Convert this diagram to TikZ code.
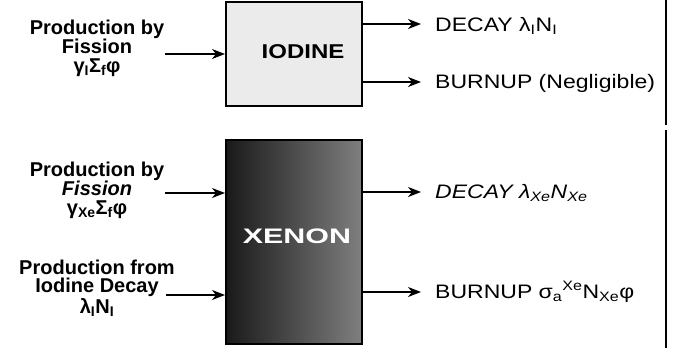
\documentclass[tikz,border=0pt]{standalone}
\usepackage{fontspec}
\setmainfont{Liberation Sans}
\newfontfamily\labfont{Liberation Sans}[FakeStretch=1.18]
\newfontfamily\iodfont{Liberation Sans}[FakeStretch=1.2]
\newfontfamily\xenfont{Liberation Sans}[FakeStretch=1.45]
\usetikzlibrary{arrows.meta}
\begin{document}
\begin{tikzpicture}[x=1pt,y=-1pt,
  conn/.style={line width=1.6pt,-{Stealth[length=13pt,width=10pt,inset=4pt]}},
  boxline/.style={line width=2pt,draw=black},
  leftlab/.style={align=center,font=\bfseries\fontsize{20}{18.5}\selectfont,inner sep=0pt},
  rightlab/.style={anchor=west,font=\labfont\fontsize{19.5}{20}\selectfont,inner sep=0pt}]
\useasboundingbox (0,0) rectangle (674,348);
% boxes
\node[boxline,fill=black!8,minimum width=136pt,minimum height=104pt,inner sep=0pt] (iodine) at (294,54) {};
\node[font=\iodfont\bfseries\fontsize{20}{22}\selectfont,inner sep=0pt] (iodinet) at (303,52) {IODINE};
\shade[left color=black!90,right color=black!50] (226,140) rectangle (362,344);
\node[boxline,minimum width=136pt,minimum height=204pt,inner sep=0pt] (xenon) at (294,242) {};
\node[font=\xenfont\bfseries\fontsize{21}{22}\selectfont,inner sep=0pt,text=white] (xenont) at (297,236) {XENON};
% left labels
\node[leftlab] (l1) at (97,48) {Production by\\Fission\\γ\textsubscript{I}Σ\textsubscript{f}φ};
\node[leftlab] (l2) at (97,190) {Production by\\\textit{Fission}\\γ\textsubscript{Xe}Σ\textsubscript{f}φ};
\node[leftlab] (l3) at (97,288) {Production from\\Iodine Decay\\λ\textsubscript{I}N\textsubscript{I}};
\coordinate (s1) at (165,54);
\coordinate (s2) at (165,193);
\coordinate (s3) at (166,295);
\draw[conn] (s1) -- (s1 -| iodine.west);
\draw[conn] (s2) -- (s2 -| xenon.west);
\draw[conn] (s3) -- (s3 -| xenon.west);
% right labels
\node[rightlab] (r1) at (435,26) {DECAY\ λ\textsubscript{I}N\textsubscript{I}};
\node[rightlab] (r2) at (435,83) {BURNUP (Negligible)};
\node[rightlab] (r3) at (435,193) {\itshape DECAY\ λ\textsubscript{Xe}N\textsubscript{Xe}};
\node[rightlab] (r4) at (435,292) {BURNUP\ σ\textsubscript{a}\textsuperscript{Xe}N\textsubscript{Xe}φ};
\coordinate (t1) at (362,24);
\coordinate (t2) at (362,82);
\coordinate (t3) at (362,192);
\coordinate (t4) at (362,292);
\draw[conn] (t1) -- ([xshift=-14pt]r1.west |- t1);
\draw[conn] (t2) -- ([xshift=-14pt]r2.west |- t2);
\draw[conn] (t3) -- ([xshift=-14pt]r3.west |- t3);
\draw[conn] (t4) -- ([xshift=-14pt]r4.west |- t4);
% right border lines
\coordinate (v1) at (666,0);
\coordinate (v2) at (666,125);
\coordinate (v3) at (666,130);
\coordinate (v4) at (666,348);
\draw[line width=2.5pt] (v1) -- (v2);
\draw[line width=2.5pt] (v3) -- (v4);
\end{tikzpicture}
\end{document}
